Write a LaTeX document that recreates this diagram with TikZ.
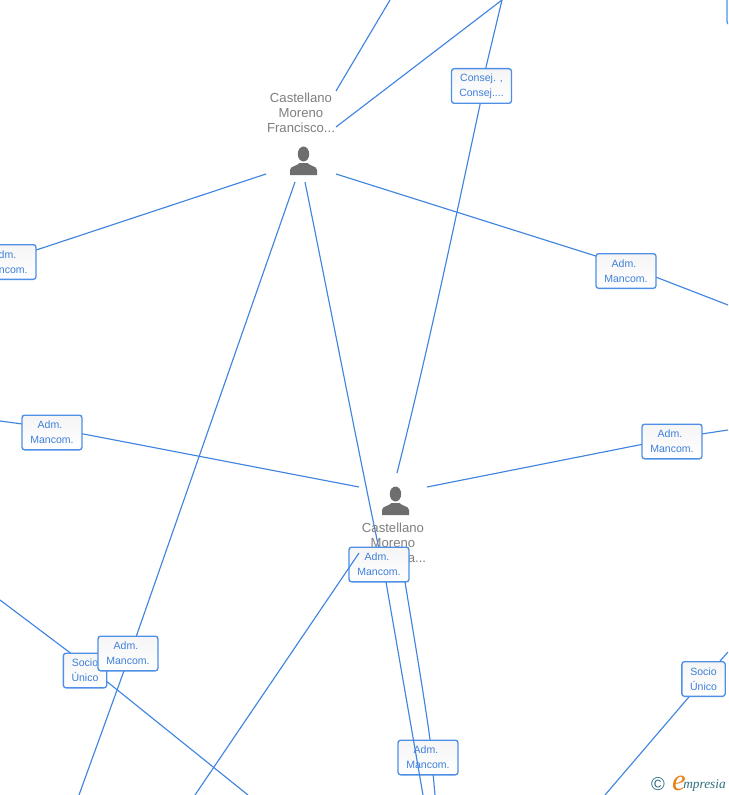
\documentclass[tikz,border=0pt]{standalone}
\usepackage{fontspec}
\setmainfont{Liberation Sans}
\newfontfamily\logofont{Liberation Serif}
\pgfdeclarelayer{bg}
\pgfdeclarelayer{top}
\pgfsetlayers{bg,main,top}
\definecolor{linkblue}{HTML}{3F85E0}
\definecolor{boxblue}{HTML}{4F8FE6}
\definecolor{textblue}{HTML}{3E7FDB}
\definecolor{namegrey}{HTML}{7F7F7F}
\definecolor{icongrey}{HTML}{6E6E6E}
\definecolor{logoteal}{HTML}{2F6F80}
\definecolor{logoorange}{HTML}{E8801A}
\newcommand{\admtext}{Adm.\hspace*{3pt}\\Mancom.}
\tikzset{
  x=0.75pt,y=-0.75pt,
  link/.style={draw=linkblue,line width=0.85pt},
  rolebox/.style={draw=boxblue,line width=1pt,rounded corners=2pt,top color=black!4,bottom color=white,
    minimum width=45pt,minimum height=26pt,inner sep=0pt,align=center,text=textblue,
    font=\fontsize{7.9}{11.25}\selectfont},
  socbox/.style={rolebox,minimum width=32.5pt},
  namelabel/.style={inner sep=0pt,align=center,text=namegrey,font=\fontsize{9.85}{11.25}\selectfont},
  persona/.pic={
    \fill[icongrey] (0,-7) ellipse [x radius=5.7,y radius=7.5];
    \fill[icongrey] (-13.5,14) -- (-13.5,9) .. controls (-13.5,5) and (-6,5) .. (-4,2)
      -- (4,2) .. controls (6,5) and (13.5,5) .. (13.5,9) -- (13.5,14) -- cycle;
  }
}
\begin{document}
\begin{tikzpicture}
\useasboundingbox (0,0) rectangle (728,795);
% free ends
\coordinate (topa) at (390,0);
\coordinate (topb) at (502,0);
\coordinate (fa) at (336,91);
\coordinate (fb) at (336,127);
\coordinate (fc) at (266,174);
\coordinate (fd) at (336,174);
\coordinate (fe) at (295,182);
\coordinate (ff) at (305,182);
\coordinate (ga) at (397,473);
\coordinate (gb) at (359,487);
\coordinate (gc) at (427,487);
\coordinate (gd) at (359,553);
\coordinate (ea) at (728,305);
\coordinate (eb) at (0,421);
\coordinate (ec) at (728,430);
\coordinate (ed) at (0,600);
\coordinate (ee) at (728,652);
\coordinate (sa) at (79,795);
\coordinate (sb) at (195,795);
\coordinate (sc) at (248,795);
\coordinate (sd) at (423,795);
\coordinate (se) at (435,795);
\coordinate (sf) at (605,795);
\coordinate (cura) at (386,582);
\coordinate (curb) at (405,582);
% nodes
\begin{scope}
\clip (0,0) rectangle (728,795);
\node[namelabel] (nameF) at (301,113) {Castellano\\Moreno\\Francisco...};
\node[namelabel] (nameM) at (393,543) {Castellano\\Moreno\\\hspace*{36pt}a...};
\pic at (303.5,161) {persona};
\pic at (395.5,501) {persona};
\node[rolebox] (consej) at (481.5,86) {Consej. ,\\Consej....};
\node[rolebox] (admL) at (6,262) {\admtext};
\node[rolebox] (admR) at (626,271) {\admtext};
\node[rolebox] (admML) at (52,432.5) {\admtext};
\node[rolebox] (admMR) at (672,441.5) {\admtext};
\node[rolebox] (admC) at (379,564.5) {\admtext};
\node[socbox] (socL) at (85,670.5) {Socio\\Único};
\node[rolebox] (admBL) at (128,653.5) {\admtext};
\node[rolebox] (admB) at (428,757.5) {\admtext};
\node[socbox] (socR) at (703.5,679) {Socio\\Único};
\node[rolebox] (corner) at (757,7) {};
\node[inner sep=0pt,text=logoteal,font=\fontsize{14}{14}\selectfont] (logoc) at (658,784.5) {©};
\node[inner sep=0pt,text=logoorange,font=\logofont\itshape\fontsize{23}{23}\selectfont] (logoe) at (679,783.5) {e};
\node[inner sep=0pt,text=logoteal,anchor=west,font=\logofont\itshape\fontsize{10}{11}\selectfont] (logot) at (683,785) {mpresia};
\end{scope}
% connectors behind the boxes
\begin{pgfonlayer}{bg}
\clip (0,0) rectangle (728,795);
\fill[white] (0,0) rectangle (728,795);
\draw[link] (topa) -- (fa);
\draw[link] (topb) -- (fb);
\draw[link] (topb) -- (consej) -- ([xshift=-1pt]consej.south) .. controls (454,226) and (428,350) .. (ga);
\draw[link] (fc) -- ([yshift=1.5pt]admL.center);
\draw[link] (fd) -- ([yshift=4.1pt]admR.center) -- (ea);
\draw[link] (gb) -- ([yshift=3.4pt]admML.center) -- (eb);
\draw[link] (gc) -- ([yshift=2.3pt]admMR.center) -- (ec);
\draw[link] (fe) -- ([xshift=1.7pt]admBL.center) -- (sa);
\draw[link] (ff) .. controls (335,330) and (366,490) .. (cura);
\draw[link] (curb) .. controls (412,625) and (424,695) .. ([xshift=1.5pt]admB.north) -- (se);
\draw[link] (ed) -- ([yshift=4.9pt]socL.center) -- (sc);
\draw[link] (ee) -- ([yshift=-0.7pt]socR.center) -- (sf);
\end{pgfonlayer}
% connectors over the boxes
\begin{pgfonlayer}{top}
\clip (0,0) rectangle (728,795);
\draw[link] (gd) -- (sb);
\draw[link] (cura) -- (sd);
\end{pgfonlayer}
\end{tikzpicture}
\end{document}
